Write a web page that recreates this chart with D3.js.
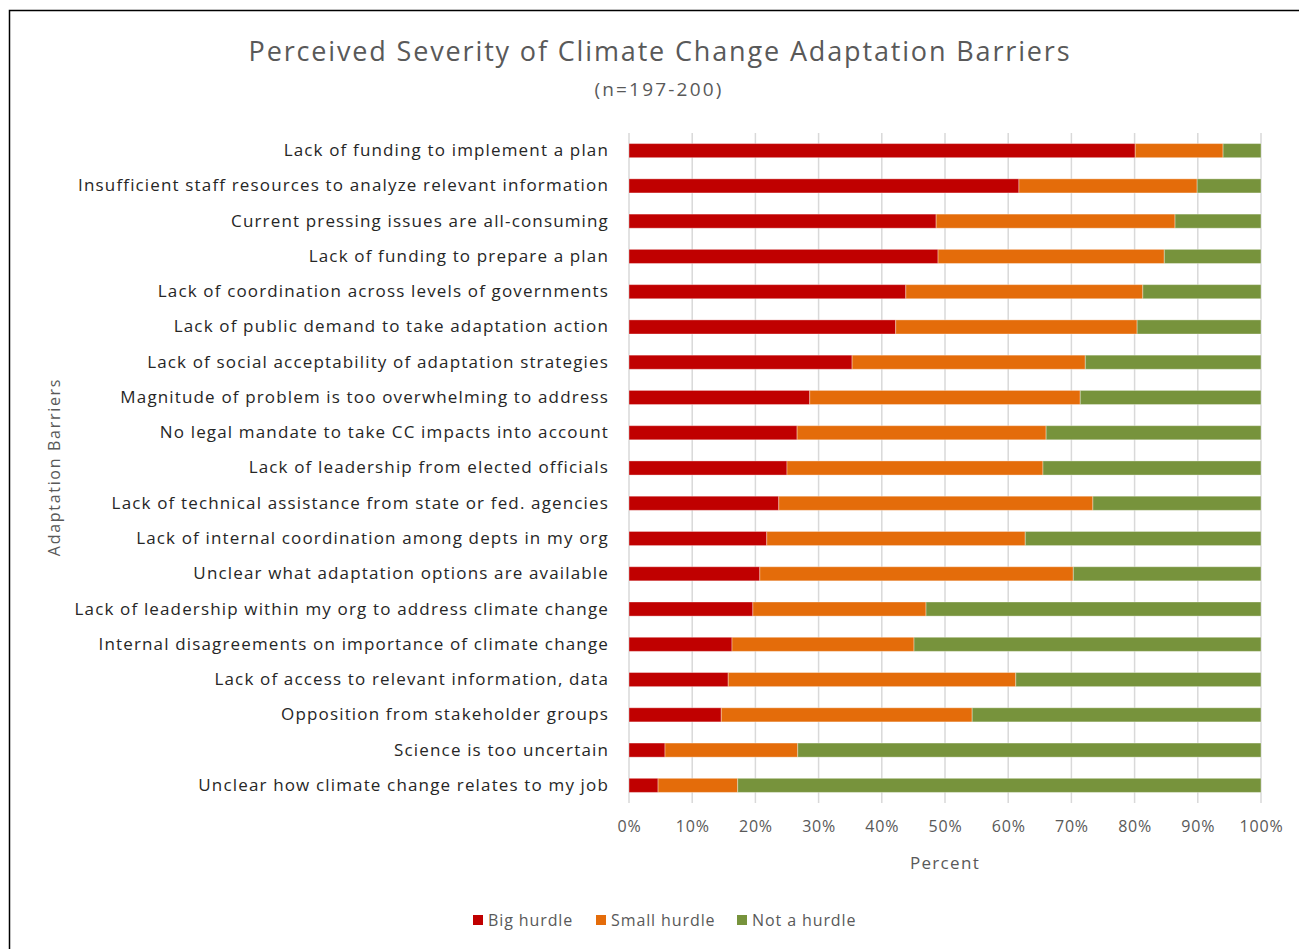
<!DOCTYPE html>
<html>
<head>
<meta charset="utf-8">
<script src="https://cdn.jsdelivr.net/npm/d3@7"></script>
<style>
  html, body { margin: 0; padding: 0; background: #fff; }
  svg { display: block; }
  text { font-family: "Open Sans", "Noto Sans", sans-serif; }
</style>
</head>
<body>
<svg id="chart" width="1299" height="949"></svg>
<script>
// Barrier categories, top to bottom
const categories = [
  "Lack of funding to implement a plan",
  "Insufficient staff resources to analyze relevant information",
  "Current pressing issues are all-consuming",
  "Lack of funding to prepare a plan",
  "Lack of coordination across levels of governments",
  "Lack of public demand to take adaptation action",
  "Lack of social acceptability of adaptation strategies",
  "Magnitude of problem is too overwhelming to address",
  "No legal mandate to take CC impacts into account",
  "Lack of leadership from elected officials",
  "Lack of technical assistance from state or fed. agencies",
  "Lack of internal coordination among depts in my org",
  "Unclear what adaptation options are available",
  "Lack of leadership within my org to address climate change",
  "Internal disagreements on importance of climate change",
  "Lack of access to relevant information, data",
  "Opposition from stakeholder groups",
  "Science is too uncertain",
  "Unclear how climate change relates to my job"
];

// Share of respondents (%) per response
const bigHurdle   = [80.1, 61.7, 48.6, 48.9, 43.8, 42.2, 35.3, 28.6, 26.6, 25.0, 23.7, 21.8, 20.7, 19.6, 16.3, 15.7, 14.6, 5.7, 4.6];
const smallHurdle = [13.9, 28.2, 37.8, 35.8, 37.5, 38.2, 36.9, 42.8, 39.4, 40.5, 49.7, 40.9, 49.6, 27.4, 28.8, 45.5, 39.7, 21.0, 12.6];
const notAHurdle  = [6.0, 10.1, 13.6, 15.3, 18.7, 19.6, 27.8, 28.6, 34.0, 34.5, 26.6, 37.3, 29.7, 53.0, 54.9, 38.8, 45.7, 73.3, 82.8];

const seriesNames = ["Big hurdle", "Small hurdle", "Not a hurdle"];
const seriesColors = ["#c00000", "#e46c0a", "#77933c"];
const tickValues = [0, 10, 20, 30, 40, 50, 60, 70, 80, 90, 100];

const rows = categories.map((c, i) => ({
  category: c,
  "Big hurdle": bigHurdle[i],
  "Small hurdle": smallHurdle[i],
  "Not a hurdle": notAHurdle[i]
}));

const svg = d3.select("#chart");

// Chart frame
svg.append("rect")
  .attr("x", 9.5).attr("y", 10.5)
  .attr("width", 1400).attr("height", 1000)
  .attr("fill", "none").attr("stroke", "#000").attr("stroke-width", 1.5);

const margin = { left: 629, right: 1261, top: 133, bottom: 803 };

const x = d3.scaleLinear().domain([0, 100]).range([margin.left, margin.right]);
const y = d3.scaleBand().domain(categories).range([margin.top, margin.bottom]).paddingInner(0.6).paddingOuter(0.3);

// Gridlines
svg.append("g")
  .selectAll("line")
  .data(tickValues)
  .join("line")
  .attr("x1", d => x(d)).attr("x2", d => x(d))
  .attr("y1", margin.top).attr("y2", margin.bottom)
  .attr("stroke", "#d9d9d9").attr("stroke-width", 1.5);

// Stacked bars
const stack = d3.stack().keys(seriesNames);
const stacked = stack(rows);

svg.append("g")
  .selectAll("g")
  .data(stacked)
  .join("g")
  .attr("fill", (d, i) => seriesColors[i])
  .selectAll("rect")
  .data(d => d)
  .join("rect")
  .attr("x", d => x(d[0]))
  .attr("y", d => y(d.data.category))
  .attr("width", d => x(d[1]) - x(d[0]))
  .attr("height", y.bandwidth())
  .attr("stroke", "rgba(255,255,255,0.35)")
  .attr("stroke-width", 1);

// Category labels
const yAxis = d3.axisLeft(y).tickSize(0).tickPadding(20);
const yg = svg.append("g").attr("transform", `translate(${margin.left},0)`).call(yAxis);
yg.select(".domain").remove();
yg.selectAll("text")
  .attr("font-size", 17)
  .attr("fill", "#262626")
  .attr("font-family", "Open Sans, sans-serif")
  .attr("letter-spacing", "1.15px");

// Percent axis labels
const xAxis = d3.axisBottom(x).tickValues(tickValues).tickSize(0).tickPadding(18).tickFormat(d => d + "%");
const xg = svg.append("g").attr("transform", `translate(0,${margin.bottom})`).call(xAxis);
xg.select(".domain").remove();
xg.selectAll("text")
  .attr("font-size", 16)
  .attr("fill", "#595959")
  .attr("font-family", "Open Sans, sans-serif")
  .attr("letter-spacing", "0.8px");

// Titles
svg.append("text")
  .attr("x", 660).attr("y", 61)
  .attr("text-anchor", "middle")
  .attr("font-size", 27)
  .attr("fill", "#595959")
  .attr("letter-spacing", "1.85px")
  .text("Perceived Severity of Climate Change Adaptation Barriers");

svg.append("text")
  .attr("x", 659).attr("y", 96)
  .attr("text-anchor", "middle")
  .attr("font-size", 19)
  .attr("fill", "#595959")
  .attr("letter-spacing", "2.2px")
  .text("(n=197-200)");

svg.append("text")
  .attr("x", 945).attr("y", 869)
  .attr("text-anchor", "middle")
  .attr("font-size", 17)
  .attr("fill", "#595959")
  .attr("letter-spacing", "1.3px")
  .text("Percent");

svg.append("text")
  .attr("transform", "translate(60,467) rotate(-90)")
  .attr("text-anchor", "middle")
  .attr("font-size", 16)
  .attr("fill", "#595959")
  .attr("letter-spacing", "1.7px")
  .text("Adaptation Barriers");

// Legend
const legendX = [473, 596, 737];
const legend = svg.append("g")
  .selectAll("g")
  .data(seriesNames)
  .join("g")
  .attr("transform", (d, i) => `translate(${legendX[i]},920)`);
legend.append("rect")
  .attr("x", 0).attr("y", -5).attr("width", 10).attr("height", 10)
  .attr("fill", (d, i) => seriesColors[i]);
legend.append("text")
  .attr("x", 15).attr("y", 6)
  .attr("font-size", 16)
  .attr("fill", "#595959")
  .attr("letter-spacing", "0.9px")
  .text(d => d);
</script>
</body>
</html>
